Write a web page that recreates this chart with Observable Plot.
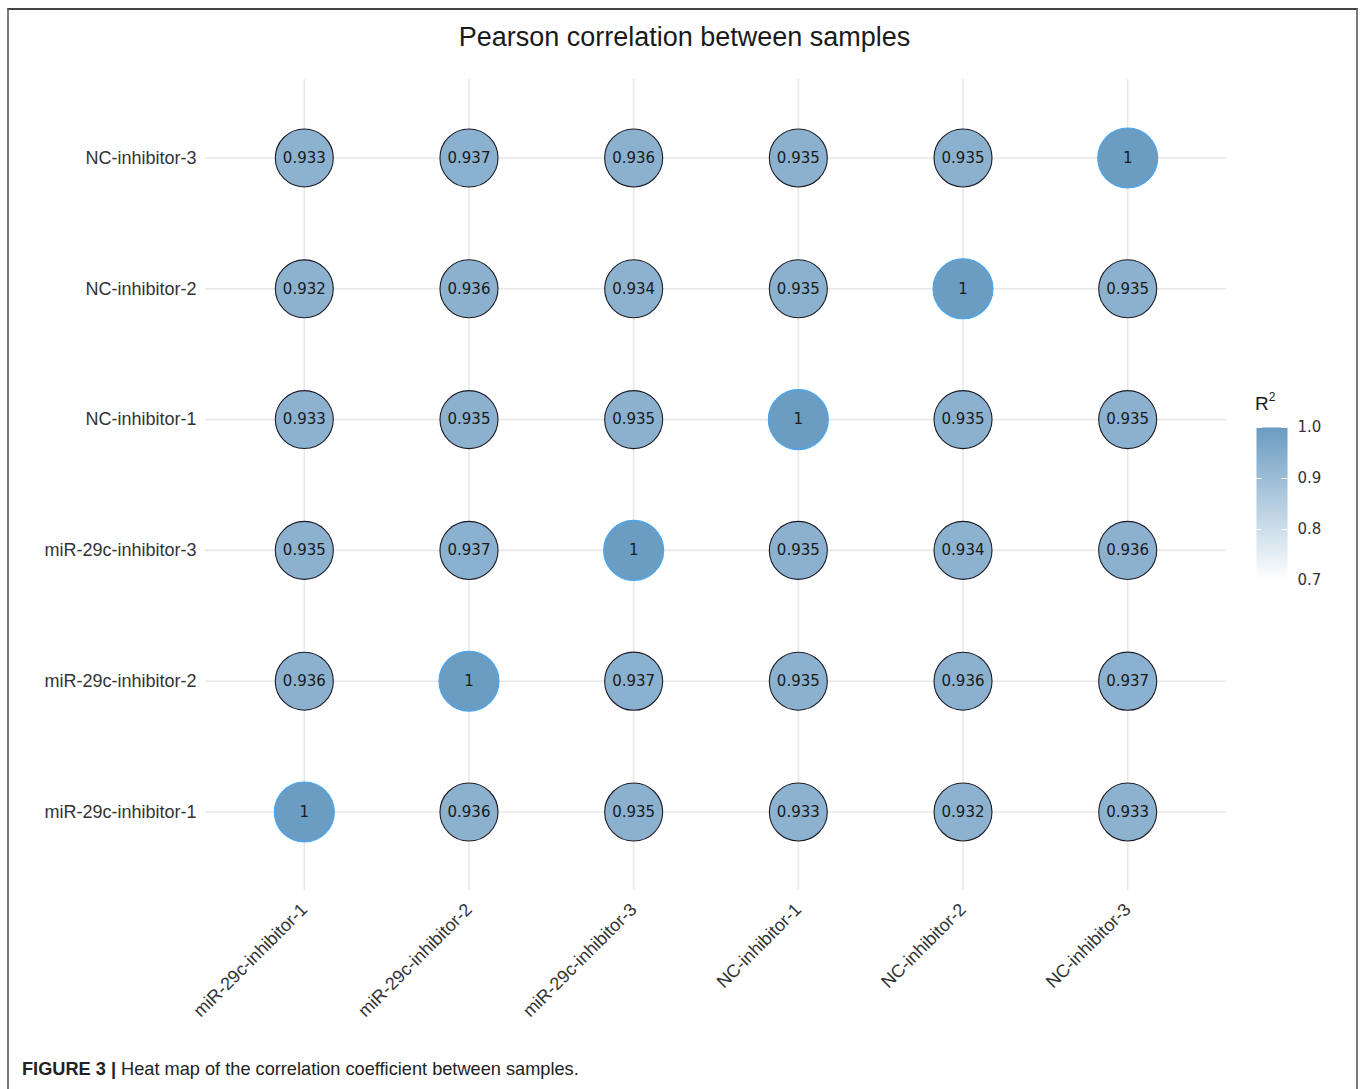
<!DOCTYPE html>
<html>
<head>
<meta charset="utf-8">
<script src="https://cdn.jsdelivr.net/npm/d3@7"></script>
<script src="https://cdn.jsdelivr.net/npm/@observablehq/plot@0.6"></script>
<style>
  html, body { margin: 0; padding: 0; background: #fff; }
  #page { position: relative; width: 1360px; height: 1089px; overflow: hidden; font-family: "Liberation Sans", Arial, sans-serif; }
  #frame { position: absolute; left: 7px; top: 8px; width: 1347px; height: 1100px;
           border-left: 2px solid #7a7a7a; border-top: 2px solid #444; border-right: 2px solid #7a7a7a; }
  #title { position: absolute; left: 0; width: 1369px; top: 22px; text-align: center; font-size: 27px; color: #1a1a1a; }
  #chart { position: absolute; left: 0; top: 0; }
  #legend { position: absolute; left: 1240px; top: 380px; }
  #legend-title { position: absolute; left: 1255px; top: 392px; font-size: 19px; color: #1a1a1a; }
  #legend-title sup { font-size: 12px; position: relative; top: -2px; }
  #caption { position: absolute; left: 22px; top: 1059px; font-size: 18.2px; color: #222; white-space: nowrap; }
  #caption b { font-weight: bold; }
</style>
</head>
<body>
<div id="page">
  <div id="frame"></div>
  <div id="title">Pearson correlation between samples</div>
  <div id="chart"></div>
  <div id="legend-title">R<sup>2</sup></div>
  <div id="legend"></div>
  <div id="caption"><b>FIGURE 3 |</b> Heat map of the correlation coefficient between samples.</div>
</div>
<script>
// Sample names, in matrix order
const samples = [
  "miR-29c-inhibitor-1", "miR-29c-inhibitor-2", "miR-29c-inhibitor-3",
  "NC-inhibitor-1", "NC-inhibitor-2", "NC-inhibitor-3"
];

// Pearson R² between samples, one row per sample (same order as columns)
const rowMiR1 = [1, 0.936, 0.935, 0.933, 0.932, 0.933];
const rowMiR2 = [0.936, 1, 0.937, 0.935, 0.936, 0.937];
const rowMiR3 = [0.935, 0.937, 1, 0.935, 0.934, 0.936];
const rowNC1  = [0.933, 0.935, 0.935, 1, 0.935, 0.935];
const rowNC2  = [0.932, 0.936, 0.934, 0.935, 1, 0.935];
const rowNC3  = [0.933, 0.937, 0.936, 0.935, 0.935, 1];
const rows = [rowMiR1, rowMiR2, rowMiR3, rowNC1, rowNC2, rowNC3];

// Colour bar ticks
const legendTicks = [0.7, 0.8, 0.9, 1.0];

// Long-format table for the marks
const cells = rows.flatMap((row, i) =>
  row.map((value, j) => ({ col: samples[j], row: samples[i], value, self: i === j }))
);

const colorOpts = { type: "linear", domain: [0.7, 1], range: ["#ffffff", "#6b9cc2"] };
const labelFont = "Liberation Sans, Arial, sans-serif";
const numFont = "DejaVu Sans, Verdana, sans-serif";

const chart = Plot.plot({
  width: 1360,
  height: 1040,
  marginLeft: 205,
  marginRight: 134,
  marginTop: 79,
  marginBottom: 150,
  style: { fontFamily: labelFont, background: "transparent" },
  x: { type: "point", domain: samples, padding: 0.6, round: false },
  y: { type: "point", domain: samples.slice().reverse(), padding: 0.6, round: false },
  color: colorOpts,
  r: { range: [0, 30] },
  marks: [
    Plot.gridX({ stroke: "#e8e8e8", strokeOpacity: 1, strokeWidth: 1.6 }),
    Plot.gridY({ stroke: "#e8e8e8", strokeOpacity: 1, strokeWidth: 1.6 }),
    Plot.axisY({ tickSize: 0, tickPadding: 9, fontSize: 18, fill: "#333", label: null }),
    Plot.axisX({ tickSize: 0, tickPadding: 16, tickRotate: -45, fontSize: 18, fill: "#333", label: null }),
    Plot.dot(cells, {
      x: "col", y: "row", r: "value", fill: "value",
      stroke: d => d.self ? "#45a6f2" : "#1c1c26", strokeWidth: 1.1
    }),
    Plot.text(cells, {
      x: "col", y: "row", text: d => String(d.value),
      fontFamily: numFont, fontSize: 15, fill: "#1a1a1a"
    })
  ]
});
document.getElementById("chart").append(chart);

// Vertical colour bar for R²
const legend = Plot.plot({
  width: 110,
  height: 220,
  marginLeft: 16,
  marginRight: 63,
  marginTop: 47,
  marginBottom: 20,
  style: { fontFamily: numFont, background: "transparent" },
  x: { domain: [0, 1], axis: null },
  y: { domain: [0.7, 1] },
  color: colorOpts,
  marks: [
    Plot.raster({ x1: 0, x2: 1, y1: 0.7, y2: 1, width: 1, height: 200, fill: (x, y) => y, imageRendering: "auto" }),
    Plot.ruleY(legendTicks, { x1: 0, x2: 0.18, stroke: "#fff", strokeWidth: 1 }),
    Plot.ruleY(legendTicks, { x1: 0.82, x2: 1, stroke: "#fff", strokeWidth: 1 }),
    Plot.axisY(legendTicks, { anchor: "right", tickSize: 0, tickPadding: 10, fontSize: 15, fill: "#333", tickFormat: d3.format(".1f"), label: null })
  ]
});
document.getElementById("legend").append(legend);
</script>
</body>
</html>
